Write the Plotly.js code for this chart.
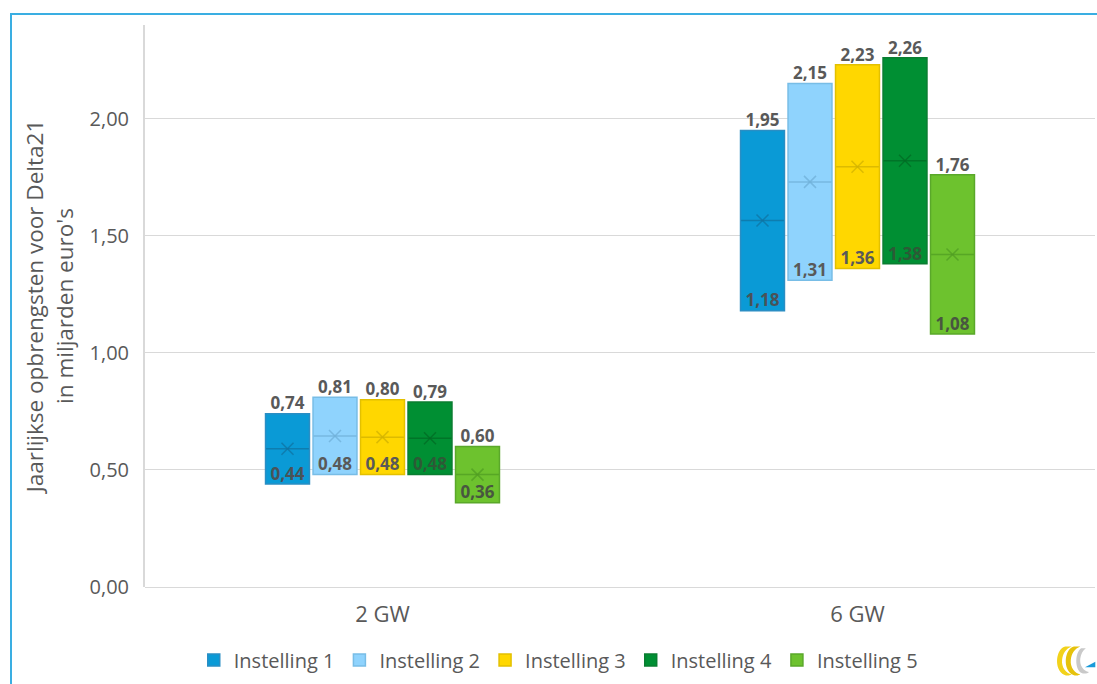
<!DOCTYPE html>
<html>
<head>
<meta charset="utf-8">
<script src="https://cdn.plot.ly/plotly-3.0.1.min.js"></script>
<style>
  html, body { margin: 0; padding: 0; background: #ffffff; }
  #chart { width: 1097px; height: 684px; }
  #frame { position: absolute; left: 10px; top: 13px; width: 1087px; height: 671px;
           border-top: 2px solid #3aaee2; border-left: 2px solid #3aaee2; pointer-events: none; box-sizing: border-box; }
</style>
</head>
<body>
<div id="chart"></div>
<div id="frame"></div>
<script>
// ---- data ----
const categories = ['2 GW', '6 GW'];
const seriesNames = ['Instelling 1', 'Instelling 2', 'Instelling 3', 'Instelling 4', 'Instelling 5'];
const min2GW = [0.44, 0.48, 0.48, 0.48, 0.36];
const max2GW = [0.74, 0.81, 0.80, 0.79, 0.60];
const mid2GW = [0.59, 0.645, 0.64, 0.635, 0.48];
const min6GW = [1.18, 1.31, 1.36, 1.38, 1.08];
const max6GW = [1.95, 2.15, 2.23, 2.26, 1.76];
const mid6GW = [1.565, 1.73, 1.795, 1.82, 1.42];

// ---- styles ----
const fillColors = ['#0a9ad6', '#8fd3fd', '#ffd700', '#008f33', '#6dc22e'];
const edgeColors = ['#2a8ec4', '#78bde6', '#e3c000', '#0a7d31', '#5aa82a'];
const darkColors = ['#10719f', '#6eaed6', '#d0b000', '#006a24', '#4f9c22'];
const minTextColors = ['#4a5258', '#595959', '#595959', '#2c5a36', '#485640'];
const labelColor = '#595959';
const font = 'Open Sans, Noto Sans, sans-serif';

const fmt = v => v.toFixed(2).replace('.', ',');

const traces = [];
seriesNames.forEach((name, i) => {
  const mins = [min2GW[i], min6GW[i]];
  const maxs = [max2GW[i], max6GW[i]];
  traces.push({
    type: 'bar', name: name, x: categories,
    base: mins, y: maxs.map((m, k) => m - mins[k]),
    marker: { color: fillColors[i], line: { color: edgeColors[i], width: 1.5 } },
    hoverinfo: 'skip'
  });
});
seriesNames.forEach((name, i) => {
  const xs = [], ys = [], sym = [], sz = [], txt = [], tcol = [];
  categories.forEach((c, k) => {
    const mn = [min2GW[i], min6GW[i]][k];
    const mx = [max2GW[i], max6GW[i]][k];
    const md = [mid2GW[i], mid6GW[i]][k];
    xs.push(c, c, c, c);
    ys.push(md, md, mn, mx);
    sym.push('line-ew', 'x-thin', 'circle', 'circle');
    sz.push(30.5, 12, 0, 0);
    txt.push('', '', fmt(mn), fmt(mx));
    tcol.push(labelColor, labelColor, minTextColors[i], labelColor);
  });
  traces.push({
    type: 'scatter', mode: 'markers+text', name: name + ' stat', showlegend: false,
    x: xs, y: ys, text: txt, textposition: 'top center',
    textfont: { family: font, size: 17, color: tcol, weight: 'bold' },
    marker: { symbol: sym, size: sz, color: darkColors[i], line: { color: darkColors[i], width: 1.5 } },
    cliponaxis: false, hoverinfo: 'skip'
  });
});

const logoSvg = "<svg xmlns='http://www.w3.org/2000/svg' width='60' height='50' viewBox='0 0 60 50'>" +
  "<path d='M20 8 C10 10 6 30 14 40 C19 46 26 45 28 43 C21 42 15 34 16 25 C17 16 21 11 28 8 Z' fill='#f2d21b'/>" +
  "<path d='M31 8 C21 10 17 30 25 40 C30 46 37 45 39 43 C32 42 26 34 27 25 C28 16 32 11 39 8 Z' fill='#e6c20c'/>" +
  "<path d='M40 10 C32 16 32 36 40 41 C44 43 48 42 50 40 C43 39 38 32 39 23 C40 17 42 13 46 10 Z' fill='#c9c9c9'/>" +
  "<path d='M45 34 L58 27 L58 34 Z' fill='#1a9ad9'/></svg>";

const layout = {
  width: 1097, height: 684,
  margin: { l: 145, r: 2, t: 25, b: 97 },
  paper_bgcolor: '#ffffff', plot_bgcolor: '#ffffff',
  font: { family: font, color: labelColor },
  separators: ', ',
  barmode: 'group', bargap: 0.5, bargroupgap: 0.075,
  scattermode: 'group', scattergap: 0.5,
  showlegend: true,
  legend: { orientation: 'h', x: 0.435, xanchor: 'center', y: -0.13, yanchor: 'middle',
            font: { size: 20, color: labelColor, family: font }, traceorder: 'normal' },
  xaxis: { type: 'category', showgrid: false, zeroline: false, showline: false, ticks: '',
           tickfont: { size: 22, color: labelColor }, ticklabelstandoff: 12, fixedrange: true },
  yaxis: { range: [0, 2.4], dtick: 0.5, tick0: 0, tickformat: '.2f', showgrid: true, gridcolor: '#d9d9d9', gridwidth: 1,
           zeroline: true, zerolinecolor: '#d9d9d9', zerolinewidth: 1,
           showline: true, linecolor: '#d9d9d9', linewidth: 2,
           ticks: '', tickfont: { size: 20, color: labelColor }, ticklabelstandoff: 10,
           title: { text: "Jaarlijkse opbrengsten voor Delta21<br>in miljarden euro's", font: { size: 22.5, color: labelColor }, standoff: 10 },
           automargin: false, fixedrange: true },
  images: [{ source: 'data:image/svg+xml;utf8,' + encodeURIComponent(logoSvg), xref: 'paper', yref: 'paper',
             x: 0.952, y: -0.09, sizex: 0.05, sizey: 0.08, xanchor: 'left', yanchor: 'top' }]
};

Plotly.newPlot('chart', traces, layout, { displayModeBar: false, staticPlot: true });
</script>
</body>
</html>
